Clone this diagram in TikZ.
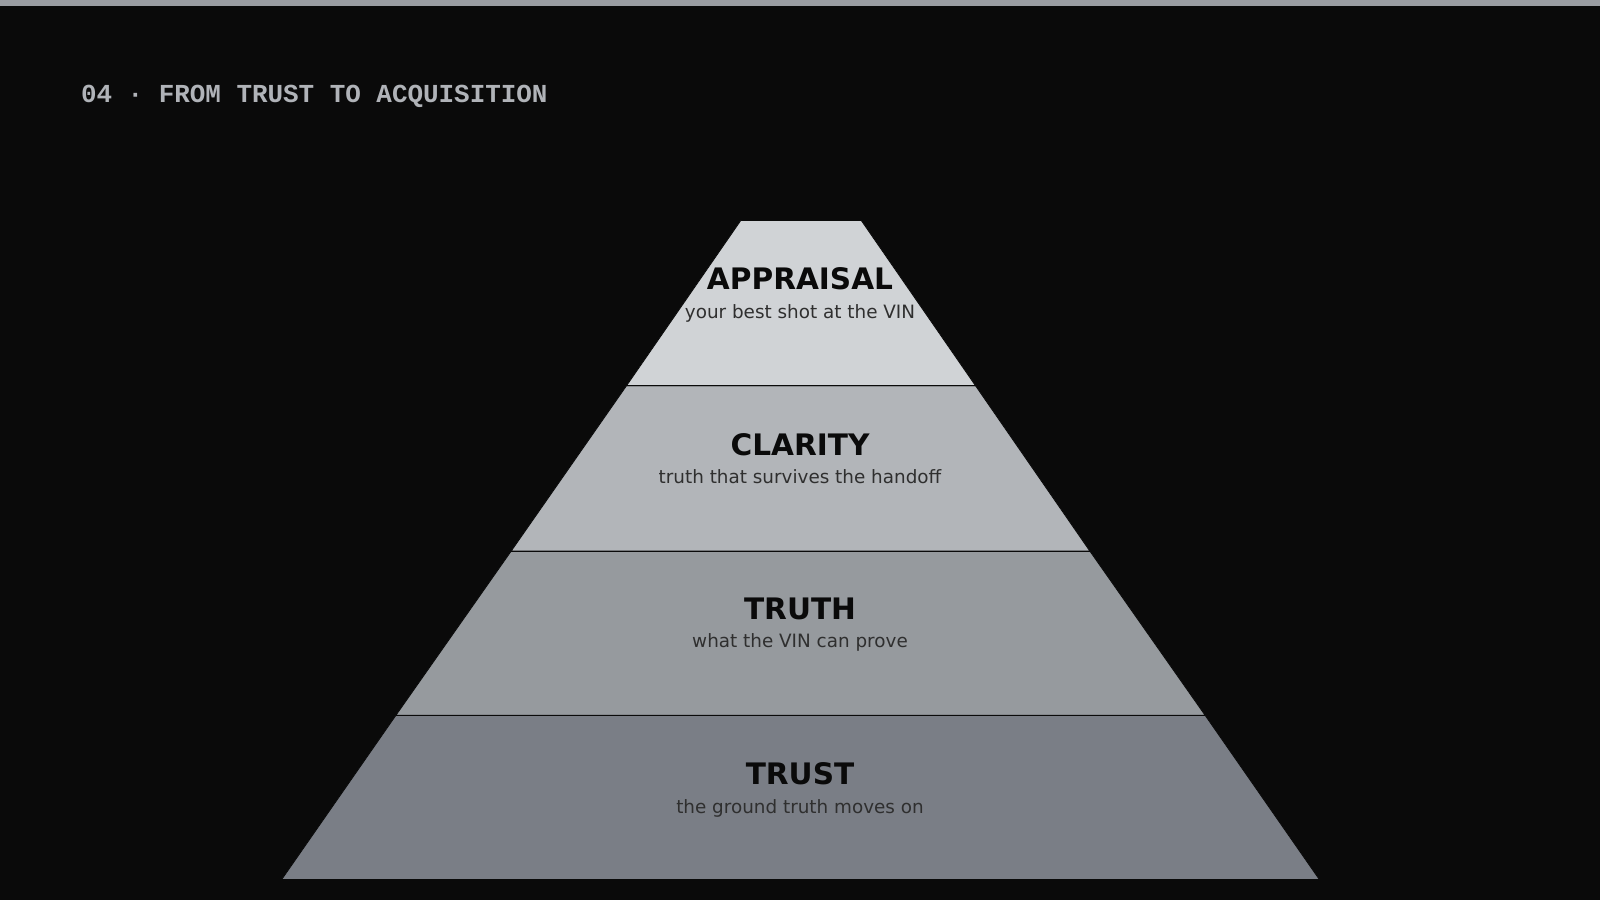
\documentclass[tikz,border=0pt]{standalone}
\usepackage{fontspec}
\setmainfont{DejaVu Sans}
\setmonofont{Liberation Mono}
\definecolor{bg}{HTML}{0A0A0A}
\definecolor{bar}{HTML}{9A9DA2}
\definecolor{titlegray}{HTML}{B0B3B8}
\definecolor{tierA}{HTML}{D0D3D6}
\definecolor{tierB}{HTML}{B2B5B9}
\definecolor{tierC}{HTML}{969A9E}
\definecolor{tierD}{HTML}{7A7E86}
\tikzset{
        tier/.style={draw=bg, line width=0.4pt},
        head/.style={font=\fontsize{14.5}{16}\selectfont\bfseries, text=bg, inner sep=0pt},
        sub/.style={font=\fontsize{9}{11}\selectfont, text=bg!85!white, inner sep=0pt},
}
\begin{document}
\begin{tikzpicture}[x=0.5pt, y=-0.5pt]
    \fill[bg] (0,0) rectangle (1568,882);
    \useasboundingbox (0,0) rectangle (1568,882);
    \fill[bar] (0,0) rectangle (1568,6);

    \node[anchor=base west, font=\fontsize{12.7}{14}\selectfont\ttfamily\bfseries,
          text=titlegray, inner sep=0pt] (title) at (79,100) {04 · FROM TRUST TO ACQUISITION};

    \fill[tierD, tier] (388,701) -- (1181,701) -- (1293,862) -- (276,862) -- cycle;
    \fill[tierC, tier] (501,540) -- (1068,540) -- (1181,701) -- (388,701) -- cycle;
    \fill[tierB, tier] (614,378) -- (956,378) -- (1068,540) -- (501,540) -- cycle;
    \fill[tierA, tier] (726,216) -- (844,216) -- (956,378) -- (614,378) -- cycle;
    \draw[bg, line width=0.4pt] (614,378) -- (956,378)
        (501,540) -- (1068,540) (388,701) -- (1181,701);

    \node[head, anchor=base] (appraisal) at (784,284) {APPRAISAL};
    \node[sub, anchor=base] (appraisalsub) at (784,312) {your best shot at the VIN};
    \node[head, anchor=base] (clarity) at (784,446) {CLARITY};
    \node[sub, anchor=base] (claritysub) at (784,474) {truth that survives the handoff};
    \node[head, anchor=base] (truth) at (784,607) {TRUTH};
    \node[sub, anchor=base] (truthsub) at (784,635) {what the VIN can prove};
    \node[head, anchor=base] (trust) at (784,769) {TRUST};
    \node[sub, anchor=base] (trustsub) at (784,797) {the ground truth moves on};
\end{tikzpicture}
\end{document}
